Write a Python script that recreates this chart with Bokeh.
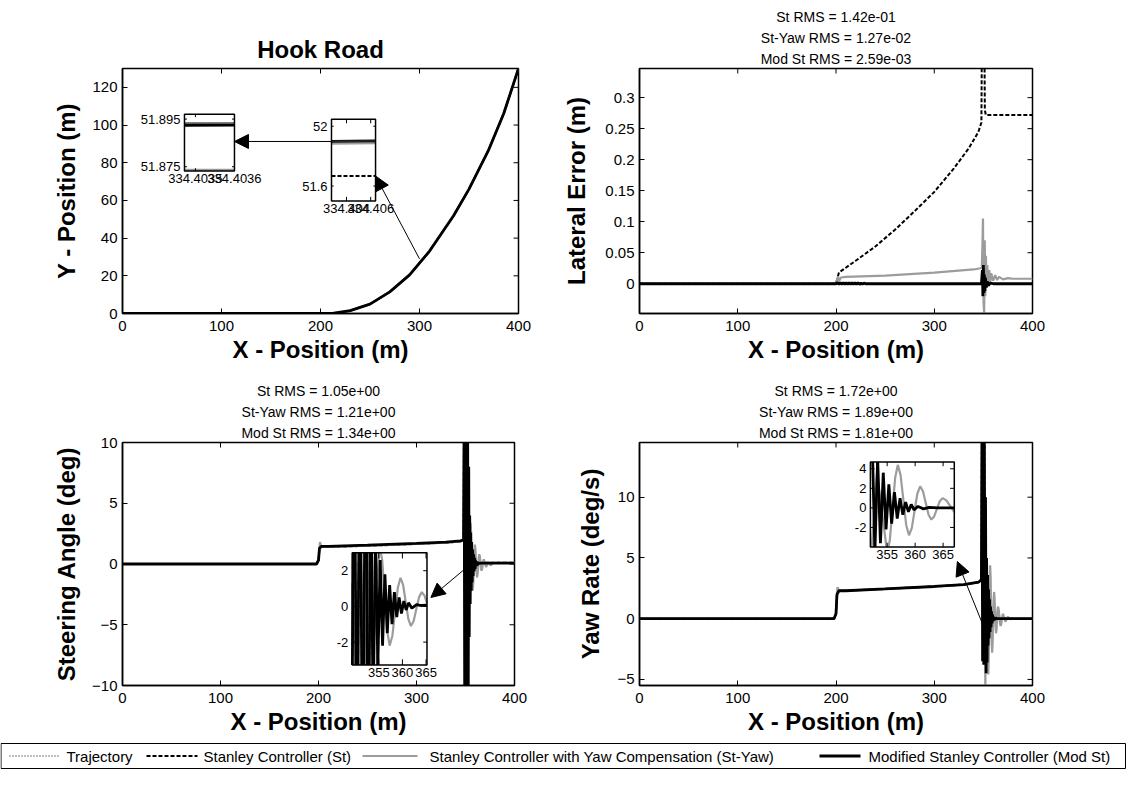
import numpy as np
from bokeh.plotting import figure
from bokeh.layouts import column, row
from bokeh.models import Range1d, Title, Arrow, NormalHead, FixedTicker
from bokeh.embed import file_html
from bokeh.resources import INLINE
from bokeh.core.properties import value

FONT = "Liberation Sans"
GRAY = "#9c9c9c"

# ---------------- data ----------------
# Panel 1: Hook road path (all controllers overlap at this scale)
road_x = [0, 100, 200, 212, 230, 250, 270, 290, 310, 334.4, 350, 370, 385, 400]
road_y = [0, 0, 0, 0, 1.5, 5, 11.5, 20.5, 33, 51.9, 66, 87, 106, 130]

# inset A (medium zoom near x = 334.40)
insA_x = [334.4025, 334.4066]
insA_traj = [51.899, 51.901]
insA_st = [51.667, 51.668]
insA_styaw = [51.884, 51.887]
insA_mod = [51.898, 51.902]
insA_xticks = [334.404, 334.406]
insA_xlabels = ["334.404", "334.406"]
insA_yticks = [51.6, 52.0]
insA_ylabels = ["51.6", "52"]

# inset B (fine zoom)
insB_x = [334.40345, 334.40362]
insB_traj = [51.8933, 51.8933]
insB_mod = [51.8924, 51.8925]
insB_styaw = [51.8737, 51.8737]
insB_xticks = [334.4035, 334.4036]
insB_xlabels = ["334.4035", "334.4036"]
insB_yticks = [51.875, 51.895]
insB_ylabels = ["51.875", "51.895"]

# Panel 2: lateral error (m)
lat_st_x = [0, 200, 203, 220, 240, 260, 280, 300, 320, 335, 345, 348, 348.5, 351, 351.5, 352.5, 400]
lat_st_y = [0, 0, 0.018, 0.037, 0.06, 0.087, 0.117, 0.148, 0.186, 0.218, 0.245, 0.26, 0.4, 0.4, 0.28,
            0.272, 0.272]
lat_sy_x = [0, 200, 201, 202, 203, 205, 210, 250, 300, 340, 347, 348.4, 349, 349.6, 350.2, 350.8, 351.4,
            352, 352.6, 353.3, 354, 355, 356, 357, 358, 360, 362, 364, 366, 370, 375, 380, 400]
lat_sy_y = [0, 0, 0.006, 0.012, 0.004, 0.01, 0.011, 0.013, 0.018, 0.023, 0.025, 0.026, 0.06, 0.105, -0.03,
            -0.048, 0.07, -0.02, 0.045, -0.005, 0.03, 0.0, 0.022, 0.003, 0.017, 0.005, 0.014, 0.006, 0.011,
            0.007, 0.009, 0.008, 0.008]
lat_mod_x = [0, 200, 201.5, 203, 204.5, 206, 207.5, 209, 210.5, 212, 213.5, 215, 216.5, 218, 219.5, 221,
             222.5, 224, 225.5, 227, 228.5, 230, 348, 349, 349.5, 350, 350.5, 351, 351.5, 352, 353, 354,
             355, 357, 360, 400]
lat_mod_y = [0, 0, 0.0015, -0.001, 0.0015, -0.001, 0.0015, -0.001, 0.0015, -0.001, 0.0015, -0.001,
             0.0015, -0.001, 0.0015, -0.001, 0.0015, -0.001, 0.0012, -0.0008, 0.001, 0, 0, 0.022, -0.02,
             0.03, -0.015, 0.015, -0.012, 0.01, -0.006, 0.004, -0.003, 0.001, 0, 0]
rms_lat = ["St RMS = 1.42e-01", "St-Yaw RMS = 1.27e-02", "Mod St RMS = 2.59e-03"]

# Panel 3: steering angle (deg)
steer_st_x = [0, 198, 200, 201, 203, 210, 250, 300, 330, 345, 348, 348.5, 351.0, 351.5, 400]
steer_st_y = [0, 0, 0.3, 1.3, 1.4, 1.4, 1.5, 1.65, 1.75, 1.85, 1.95, 12, 12, 0.1, 0.1]
steer_sy_x = [0, 198, 200, 201.5, 203, 210, 250, 300, 330, 345, 348, 349, 350, 351, 352, 353, 353.8, 354.5,
              355.2, 355.73, 356.25, 356.78, 357.3, 357.88, 358.45, 359.03, 359.6, 360.15, 360.7, 361.25,
              361.8, 362.38, 362.95, 363.53, 364.1, 364.68, 365.25, 365.83, 366.4, 366.98, 367.55, 368.13,
              368.7, 369.85, 371.0, 372.15, 373.3, 374.45, 375.6, 377.5, 380, 400]
steer_sy_y = [0, 0, 0.4, 1.8, 1.4, 1.4, 1.5, 1.65, 1.75, 1.85, 2.0, 4.5, -3.5, 4.2, -4.5, 3.8, -3.0, 1.0,
              3.4, 2.58, 0.6, -1.38, -2.2, -1.64, -0.3, 1.04, 1.6, 1.2, 0.25, -0.7,
              -1.1, -0.82, -0.15, 0.52, 0.8, 0.6, 0.13, -0.39, -0.55, -0.4, -0.08, 0.26,
              0.38, 0.06, -0.26, -0.04, 0.18, 0.03, -0.12, 0.05, 0.1, 0.1]
steer_mod_x = [0, 198, 200, 201, 203, 210, 250, 300, 330, 345, 348, 348.6, 349.2, 349.8, 350.4, 351.0,
               351.6, 352.2, 352.8, 353.3, 353.8, 354.3, 354.8, 355.3, 355.8, 356.3, 356.8, 357.3, 357.8,
               358.3, 358.8, 359.3, 359.8, 360.3, 360.8, 361.3, 362.0, 363.0, 364.0, 366.0, 400]
steer_mod_y = [0, 0, 0.3, 1.3, 1.45, 1.45, 1.55, 1.7, 1.8, 1.9, 2.0, 12, -12, 12, -12, 12, -12, 11, -11, 8,
               -6, 4, -3.3, 2.6, -2.2, 1.8, -1.5, 1.2, -1.0, 0.8, -0.6, 0.5, -0.4, 0.3, -0.2, 0.2, -0.1, 0.1,
               0.05, 0.08, 0.08]
rms_steer = ["St RMS = 1.05e+00", "St-Yaw RMS = 1.21e+00", "Mod St RMS = 1.34e+00"]

# Panel 4: yaw rate (deg/s)
yaw_st_x = [0, 198, 200, 201, 203, 210, 250, 300, 330, 345, 348, 348.5, 351, 351.5, 400]
yaw_st_y = [0, 0, 0.4, 2.0, 2.3, 2.3, 2.45, 2.65, 2.8, 3.0, 3.2, 16, 16, 0, 0]
yaw_sy_x = [0, 198, 200, 201.5, 203, 210, 250, 300, 330, 345, 348, 349, 350, 351, 352, 353.2, 354.1, 355.0,
            355.48, 355.95, 356.43, 356.9, 357.4, 357.9, 358.4, 358.9, 359.4, 359.9, 360.4, 360.9,
            361.4, 361.9, 362.4, 362.9, 363.4, 363.9, 364.4, 364.9, 365.58, 366.25, 366.93, 367.6,
            368.2, 368.8, 369.4, 370.0, 371.2, 372.4, 373.6, 374.8, 377.5, 380, 400]
yaw_sy_y = [0, 0, 0.5, 2.6, 2.3, 2.3, 2.45, 2.65, 2.8, 3.0, 3.3, 9.0, -2.0, 7.0, -5.8, 3.5, -0.5, -4.6,
            -3.28, -0.1, 3.08, 4.4, 3.35, 0.8, -1.75, -2.8, -2.07, -0.3, 1.47, 2.2,
            1.7, 0.5, -0.7, -1.2, -0.88, -0.1, 0.68, 1.0, 0.77, 0.2, -0.37, -0.6,
            -0.45, -0.1, 0.25, 0.4, 0.08, -0.25, -0.05, 0.15, -0.05, 0, 0]
yaw_mod_x = [0, 198, 200, 201, 203, 210, 250, 300, 330, 345, 348, 348.6, 349.2, 349.8, 350.4, 351.0, 351.6,
             352.2, 352.8, 353.3, 353.8, 354.3, 354.8, 355.3, 355.8, 356.3, 356.8, 357.3, 357.8, 358.3,
             358.8, 359.3, 359.8, 360.5, 361.5, 362.5, 364, 400]
yaw_mod_y = [0, 0, 0.4, 2.0, 2.3, 2.3, 2.45, 2.65, 2.8, 3.0, 3.2, 16, -3.5, 16, -3.8, 15, -3.5, 10, -4.5,
             5.0, -3.6, 3.6, -2.2, 2.4, -1.6, 1.6, -1.1, 1.0, -0.7, 0.6, -0.4, 0.35, -0.2, 0.15, -0.1, 0.05,
             0, 0]
rms_yaw = ["St RMS = 1.72e+00", "St-Yaw RMS = 1.89e+00", "Mod St RMS = 1.81e+00"]

legend_labels = ["Trajectory", "Stanley Controller (St)",
                 "Stanley Controller with Yaw Compensation (St-Yaw)",
                 "Modified Stanley Controller (Mod St)"]

x_ticks = [0, 100, 200, 300, 400]
pos_yticks = [0, 20, 40, 60, 80, 100, 120]
lat_yticks = [0, 0.05, 0.1, 0.15, 0.2, 0.25, 0.3]
lat_ylabels = ["0", "0.05", "0.1", "0.15", "0.2", "0.25", "0.3"]
steer_yticks = [-10, -5, 0, 5, 10]
yaw_yticks = [-5, 0, 5, 10]
ins_steer_xticks = [355, 360, 365]
ins_steer_yticks = [-2, 0, 2]
ins_yaw_xticks = [355, 360, 365]
ins_yaw_yticks = [-2, 0, 2, 4]

# ---------------- styles ----------------
ST_TRAJ = dict(line_color="black", line_width=1.5, line_dash="1 2")
ST_ST = dict(line_color="black", line_width=2, line_dash="4 2")
ST_SY = dict(line_color=GRAY, line_width=2.2)
ST_MOD = dict(line_color="black", line_width=2.8)


def clip_poly(xs, ys, x0, x1, y0, y1):
    out_x, out_y = [], []
    cx, cy = [], []
    for i in range(len(xs) - 1):
        ax, ay, bx, by = xs[i], ys[i], xs[i + 1], ys[i + 1]
        dx, dy = bx - ax, by - ay
        t0, t1, ok = 0.0, 1.0, True
        for pp, qq in ((-dx, ax - x0), (dx, x1 - ax), (-dy, ay - y0), (dy, y1 - ay)):
            if pp == 0:
                if qq < 0:
                    ok = False
                    break
            else:
                r = qq / pp
                if pp < 0:
                    if r > t1:
                        ok = False
                        break
                    t0 = max(t0, r)
                else:
                    if r < t0:
                        ok = False
                        break
                    t1 = min(t1, r)
        if not ok:
            if cx:
                out_x.append(cx); out_y.append(cy); cx, cy = [], []
            continue
        sx, sy = ax + t0 * dx, ay + t0 * dy
        ex, ey = ax + t1 * dx, ay + t1 * dy
        if cx and t0 == 0.0:
            cx.append(ex); cy.append(ey)
        else:
            if cx:
                out_x.append(cx); out_y.append(cy)
            cx, cy = [sx, ex], [sy, ey]
        if t1 < 1.0:
            out_x.append(cx); out_y.append(cy); cx, cy = [], []
    if cx:
        out_x.append(cx); out_y.append(cy)
    return out_x, out_y


def make_fig(width, height, xr, yr, mb):
    p = figure(width=width, height=height, x_range=Range1d(*xr), y_range=Range1d(*yr),
               output_backend="svg", toolbar_location=None, title_location=None,
               min_border_left=mb[0], min_border_right=mb[1], min_border_top=mb[2],
               min_border_bottom=mb[3], background_fill_color="white", border_fill_color="white")
    p.xgrid.visible = False
    p.ygrid.visible = False
    p.outline_line_color = "black"
    p.outline_line_width = 1.5
    return p


def style_axes(p, xlabel, ylabel, yticks, ylabels=None, ylab_standoff=9):
    p.xaxis.ticker = FixedTicker(ticks=x_ticks)
    p.yaxis.ticker = FixedTicker(ticks=yticks)
    if ylabels:
        p.yaxis.major_label_overrides = {t: l for t, l in zip(yticks, ylabels)}
    for ax in p.axis:
        ax.major_tick_in = 5
        ax.major_tick_out = 0
        ax.minor_tick_in = 0
        ax.minor_tick_out = 0
        ax.axis_line_width = 1.5
        ax.axis_line_color = "black"
        ax.major_tick_line_color = "black"
        ax.major_label_text_font = FONT
        ax.major_label_text_font_size = "15px"
        ax.major_label_text_color = "black"
        ax.axis_label_text_font = FONT
        ax.axis_label_text_font_style = "bold"
        ax.axis_label_text_font_size = "24px"
        ax.axis_label_text_color = "black"
    p.xaxis.axis_label = xlabel
    p.xaxis.major_label_standoff = 7
    p.xaxis.axis_label_standoff = 2
    p.yaxis.axis_label = ylabel
    p.yaxis.major_label_standoff = 5
    p.yaxis.axis_label_standoff = ylab_standoff
    # inward ticks on the top and right edges of the box
    xr, yr = p.x_range, p.y_range
    p.scatter(x=x_ticks, y=[yr.end] * len(x_ticks), marker="dash", size=10, angle=np.pi / 2,
              line_color="black", line_width=1)
    p.scatter(x=[xr.end] * len(yticks), y=yticks, marker="dash", size=10, angle=0,
              line_color="black", line_width=1)


def add_rms(p, lines):
    for t in reversed(lines):
        p.add_layout(Title(text=t, align="center", text_font=FONT, text_font_size="14px",
                           text_font_style="normal", standoff=3, text_color="black"), "above")


def make_inset(p, xs_src, ys_src, xt, yt, series, xticks, xlabels, yticks, ylabels):
    sub = p.subplot(x_source=Range1d(*xs_src), y_source=Range1d(*ys_src),
                    x_target=Range1d(*xt), y_target=Range1d(*yt))
    sub.quad(left=xs_src[0], right=xs_src[1], bottom=ys_src[0], top=ys_src[1],
             fill_color="white", line_color=None)
    for xs, ys, kw in series:
        mx, my = clip_poly(xs, ys, xs_src[0], xs_src[1], ys_src[0], ys_src[1])
        if mx:
            sub.multi_line(xs=mx, ys=my, **kw)
    sub.quad(left=xs_src[0], right=xs_src[1], bottom=ys_src[0], top=ys_src[1],
             fill_color=None, line_color="black", line_width=1.5)
    tly = 0.05 * (ys_src[1] - ys_src[0])
    tlx = 0.05 * (xs_src[1] - xs_src[0])
    n, m = len(xticks), len(yticks)
    sub.segment(x0=xticks, x1=xticks, y0=[ys_src[0]] * n, y1=[ys_src[0] + tly] * n, line_color="black")
    sub.segment(x0=xticks, x1=xticks, y0=[ys_src[1]] * n, y1=[ys_src[1] - tly] * n, line_color="black")
    sub.segment(x0=[xs_src[0]] * m, x1=[xs_src[0] + tlx] * m, y0=yticks, y1=yticks, line_color="black")
    sub.segment(x0=[xs_src[1]] * m, x1=[xs_src[1] - tlx] * m, y0=yticks, y1=yticks, line_color="black")
    sub.text(x=xticks, y=[ys_src[0]] * n, text=xlabels, text_align="center", text_baseline="top",
             y_offset=3, text_font=value(FONT), text_font_size="13px", text_color="black")
    sub.text(x=[xs_src[0]] * m, y=yticks, text=ylabels, text_align="right", text_baseline="middle",
             x_offset=-4, text_font=value(FONT), text_font_size="13px", text_color="black")
    return sub


def to_parent(v, src, tgt):
    return tgt[0] + (v - src[0]) / (src[1] - src[0]) * (tgt[1] - tgt[0])


def arrow(p, xs, ys, xe, ye):
    p.add_layout(Arrow(end=NormalHead(size=14, fill_color="black", line_color="black"),
                       x_start=xs, y_start=ys, x_end=xe, y_end=ye, line_color="black", line_width=1))


# ---------------- panel 1 ----------------
p1 = make_fig(560, 367, (0, 400), (0, 130), (122, 42, 68, 54))
style_axes(p1, "X - Position (m)", "Y - Position (m)", pos_yticks)
p1.add_layout(Title(text="Hook Road", align="center", text_font=FONT, text_font_size="24px",
                    text_font_style="bold", standoff=12, text_color="black"), "above")
p1.line(road_x, road_y, **ST_TRAJ)
p1.line(road_x, road_y, **ST_ST)
p1.line(road_x, road_y, **ST_SY)
p1.line(road_x, road_y, **ST_MOD)

insA_xs = (334.40276, 334.40640)
insA_ys = (51.5, 52.047)
insA_xt = (211.1, 255.6)
insA_yt = (59.7, 103.1)
make_inset(p1, insA_xs, insA_ys, insA_xt, insA_yt,
           [(insA_x, insA_st, ST_ST), (insA_x, insA_styaw, ST_SY), (insA_x, insA_mod, ST_MOD),
            (insA_x, insA_traj, dict(line_color="#555555", line_width=1.5, line_dash="1 1"))],
           insA_xticks, insA_xlabels, insA_yticks, insA_ylabels)
insB_xs = (334.403472, 334.4036)
insB_ys = (51.8732, 51.897)
insB_xt = (62.6, 113.1)
insB_yt = (75.6, 105.7)
make_inset(p1, insB_xs, insB_ys, insB_xt, insB_yt,
           [(insB_x, insB_styaw, ST_SY), (insB_x, insB_mod, ST_MOD),
            (insB_x, insB_traj, dict(line_color="black", line_width=2, line_dash="1 1"))],
           insB_xticks, insB_xlabels, insB_yticks, insB_ylabels)
arrow(p1, 300, 29, insA_xt[1], to_parent(insA_st[0], insA_ys, insA_yt))
yA = to_parent(insA_mod[0], insA_ys, insA_yt)
arrow(p1, insA_xt[0], yA, insB_xt[1], yA)

# ---------------- panel 2 ----------------
p2 = make_fig(566, 367, (0, 400), (-0.048, 0.347), (78, 94, 68, 54))
style_axes(p2, "X - Position (m)", "Lateral Error (m)", lat_yticks, lat_ylabels, ylab_standoff=12)
add_rms(p2, rms_lat)
p2.line(lat_st_x, lat_st_y, **ST_ST)
p2.line(lat_sy_x, lat_sy_y, **ST_SY)
p2.line(lat_mod_x, lat_mod_y, **ST_MOD)

# ---------------- panel 3 ----------------
p3 = make_fig(560, 370, (0, 400), (-10, 10), (122, 46, 75, 46))
style_axes(p3, "X - Position (m)", "Steering Angle (deg)", steer_yticks)
add_rms(p3, rms_steer)
p3.line(steer_st_x, steer_st_y, **ST_ST)
p3.line(steer_sy_x, steer_sy_y, **ST_SY)
p3.line(steer_mod_x, steer_mod_y, **ST_MOD)
ins3_xs = (349.4, 365.2)
ins3_ys = (-3.28, 3.0)
ins3_xt = (234.5, 310.7)
ins3_yt = (-8.31, 0.92)
make_inset(p3, ins3_xs, ins3_ys, ins3_xt, ins3_yt,
           [(steer_sy_x, steer_sy_y, ST_SY), (steer_mod_x, steer_mod_y, ST_MOD)],
           ins_steer_xticks, [str(v) for v in ins_steer_xticks],
           ins_steer_yticks, [str(v) for v in ins_steer_yticks])
arrow(p3, 358.4, 0.2, 314.7, to_parent(0.5, ins3_ys, ins3_yt))

# ---------------- panel 4 ----------------
p4 = make_fig(566, 370, (0, 400), (-5.5, 14.5), (79, 94, 75, 46))
style_axes(p4, "X - Position (m)", "Yaw Rate (deg/s)", yaw_yticks, ylab_standoff=10)
add_rms(p4, rms_yaw)
p4.line(yaw_st_x, yaw_st_y, **ST_ST)
p4.line(yaw_sy_x, yaw_sy_y, **ST_SY)
p4.line(yaw_mod_x, yaw_mod_y, **ST_MOD)
ins4_xs = (352.0, 367.0)
ins4_ys = (-4.0, 4.7)
ins4_xt = (235.0, 320.4)
ins4_yt = (5.9, 12.9)
make_inset(p4, ins4_xs, ins4_ys, ins4_xt, ins4_yt,
           [(yaw_sy_x, yaw_sy_y, ST_SY), (yaw_mod_x, yaw_mod_y, ST_MOD)],
           ins_yaw_xticks, [str(v) for v in ins_yaw_xticks],
           ins_yaw_yticks, [str(v) for v in ins_yaw_yticks])
arrow(p4, 355, -1.6, 323.5, 4.7)

# ---------------- legend (drawn as one boxed row) ----------------
LEG_W, LEG_H = 1126, 32
pl = figure(width=LEG_W, height=LEG_H, output_backend="svg", toolbar_location=None, title_location=None,
            x_axis_location=None, y_axis_location=None, min_border=0,
            x_range=Range1d(0, LEG_W), y_range=Range1d(0, LEG_H))
pl.xgrid.visible = False
pl.ygrid.visible = False
pl.outline_line_color = None
pl.quad(left=0.5, right=LEG_W - 1, bottom=1, top=26, fill_color="white", line_color="black",
        line_width=1)
leg_styles = [dict(line_color="black", line_width=1.2, line_dash="1 2"), ST_ST, ST_SY, ST_MOD]
leg_sample = [(9, 60), (146, 197), (362, 417), (819, 860)]
leg_text_x = [66, 203, 429, 868]
yc = 13.5
for (a, b), st in zip(leg_sample, leg_styles):
    pl.line([a, b], [yc, yc], **st)
pl.text(x=leg_text_x, y=[yc] * 4, text=legend_labels, text_align="left", text_baseline="middle",
        text_font=value(FONT), text_font_size="15px", text_color="black")

layout = column(row(p1, p2), row(p3, p4), pl)
open("out.html", "w").write(file_html(layout, INLINE))
